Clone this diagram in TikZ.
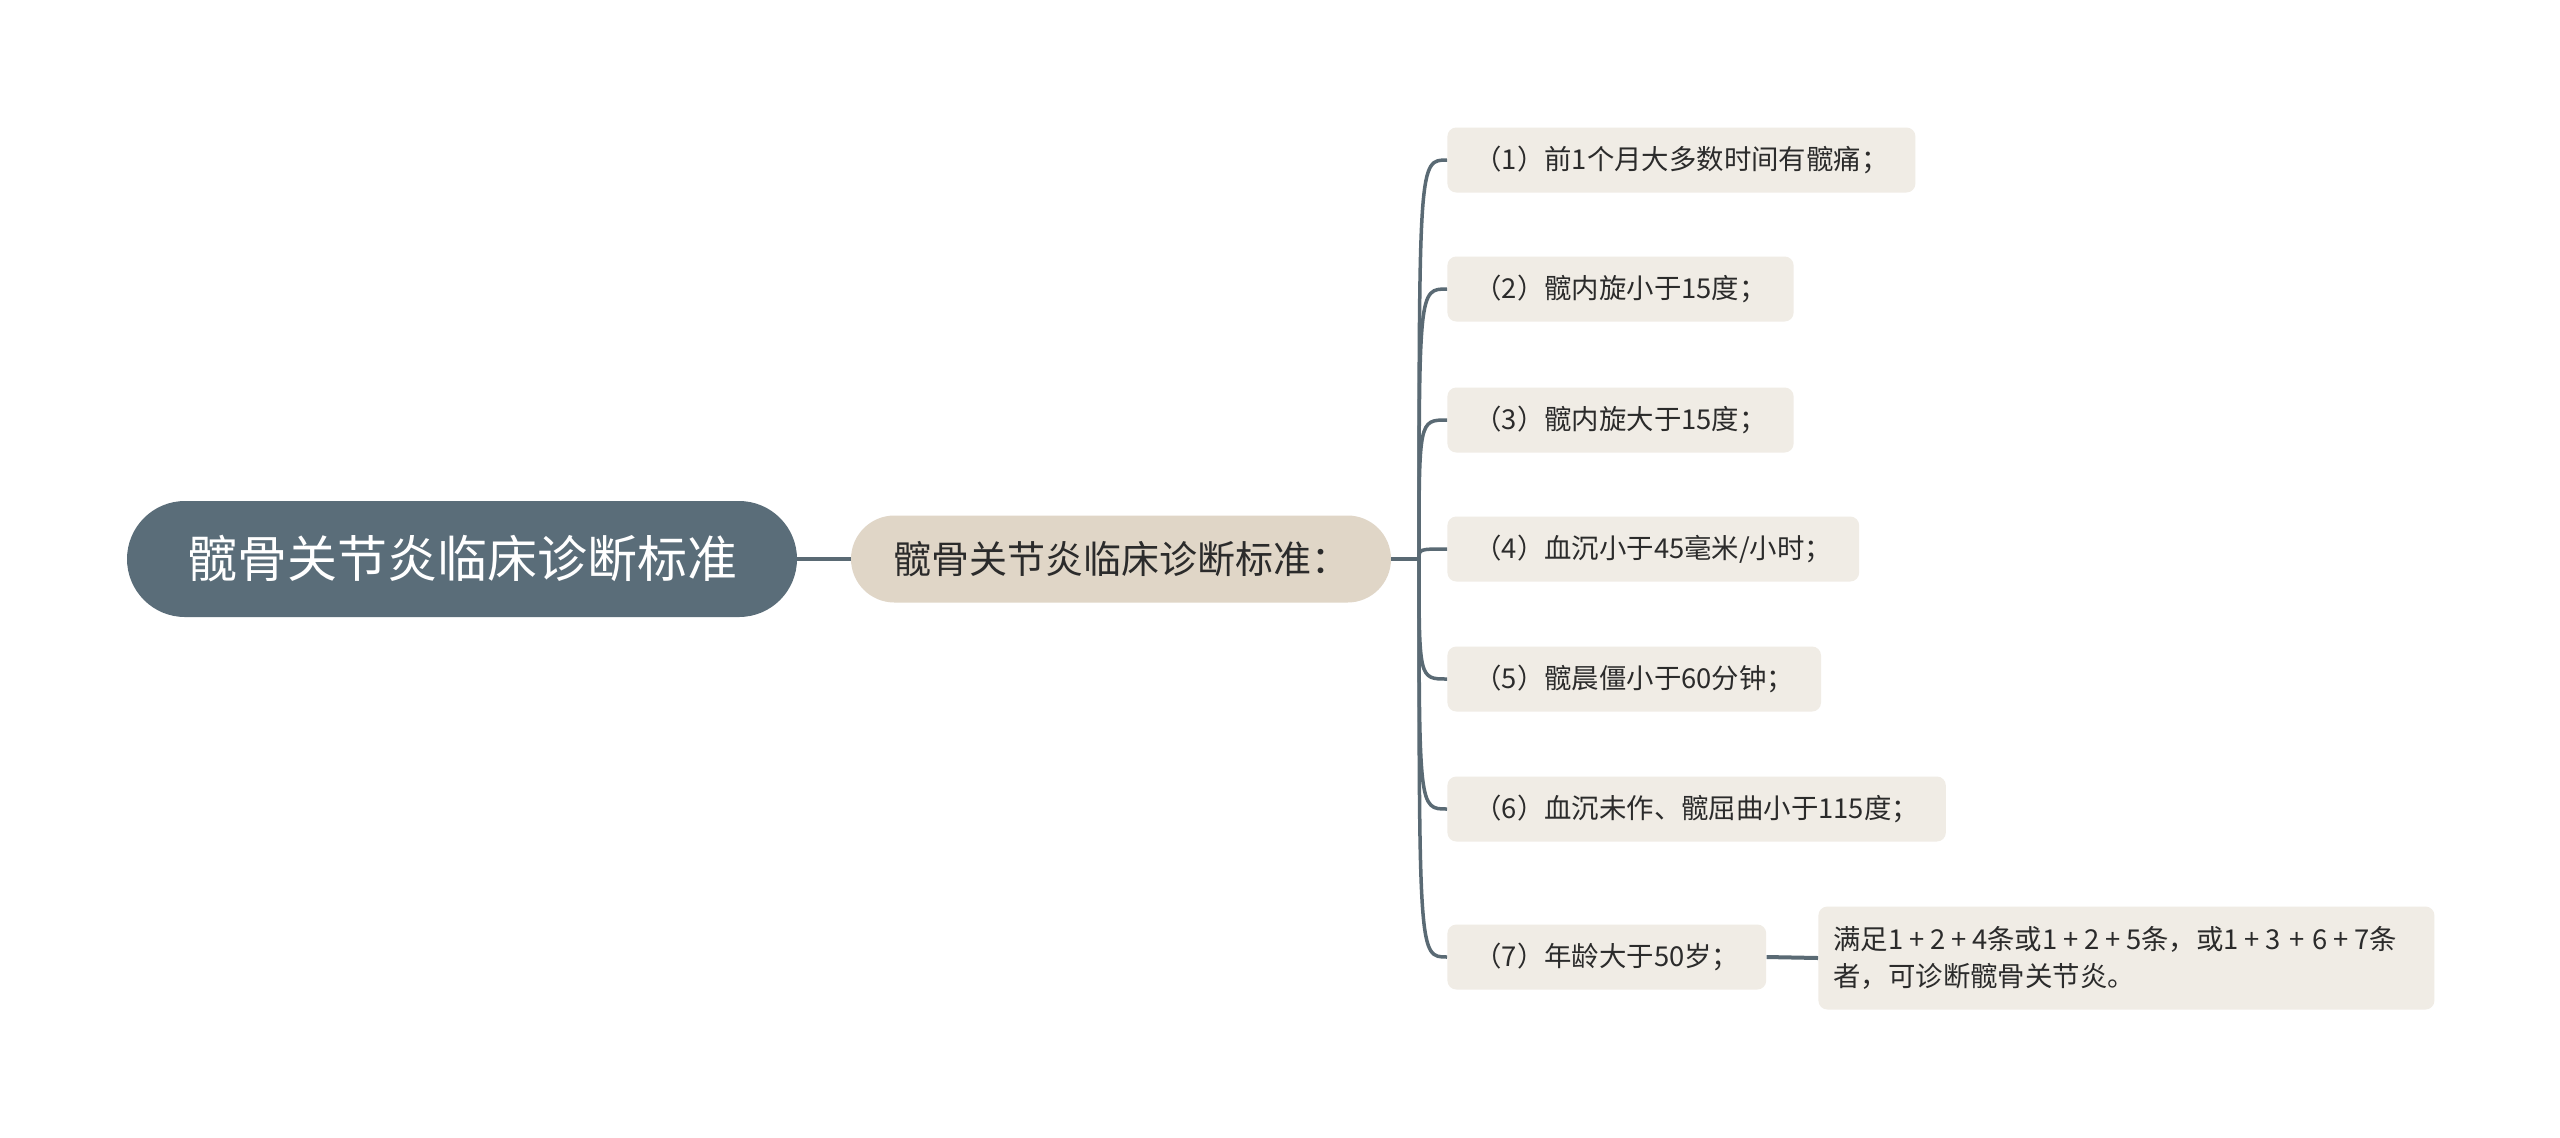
\documentclass[tikz,border=0pt]{standalone}
\usepackage{fontspec}
\setmainfont{Noto Sans CJK SC}
\usepackage{color}
\definecolor{rootfill}{HTML}{5A6D79}
\definecolor{mainfill}{HTML}{E0D6C7}
\definecolor{itemfill}{HTML}{F0ECE5}
\definecolor{linecol}{HTML}{5A6A74}
\definecolor{textcol}{HTML}{2B2B2B}
\newcommand{\pluskern}{\kern2.9pt+\kern2.9pt}

\begin{document}
\begin{tikzpicture}[x=0.5pt,y=-0.5pt,
 rootbox/.style={fill=rootfill,text=white,rounded corners=29pt,minimum width=335pt,minimum height=58pt,inner sep=0pt,font=\fontsize{25}{30}\selectfont},
 mainbox/.style={fill=mainfill,text=textcol,rounded corners=21.75pt,minimum width=270pt,minimum height=43.5pt,inner sep=0pt,font=\fontsize{19}{23}\selectfont},
 itembox/.style={fill=itemfill,text=textcol,rounded corners=4.5pt,anchor=west,minimum height=32.5pt,inner xsep=13.5pt,inner ysep=0pt,font=\fontsize{13.7}{16}\selectfont},
 notebox/.style={fill=itemfill,text=textcol,rounded corners=4.5pt,anchor=west,minimum height=51.5pt,text width=293pt,align=left,inner xsep=7.5pt,inner ysep=0pt,font=\fontsize{13.7}{18.8}\selectfont},
 branch/.style={draw=linecol,line width=1.75pt}]
 \useasboundingbox[fill=white] (0,0) rectangle (2560,1137);

 \node [rootbox] (R) at (462,559) {髋骨关节炎临床诊断标准};
 \node [mainbox] (M) at (1121,559) {髋骨关节炎临床诊断标准：};
 \coordinate (H) at (1419,559);

 \node [itembox] (C1) at (1447,160) {（1）前1个月大多数时间有髋痛；};
 \node [itembox] (C2) at (1447,289) {（2）髋内旋小于15度；};
 \node [itembox] (C3) at (1447,420) {（3）髋内旋大于15度；};
 \node [itembox] (C4) at (1447,549) {（4）血沉小于45毫米/小时；};
 \node [itembox] (C5) at (1447,679) {（5）髋晨僵小于60分钟；};
 \node [itembox] (C6) at (1447,809) {（6）血沉未作、髋屈曲小于115度；};
 \node [itembox] (C7) at (1447,957) {（7）年龄大于50岁；};
 \node [notebox] (N) at (1818,958) {满足1\pluskern2\pluskern4条或1\pluskern2\pluskern5条，或1\pluskern3\kern1.2pt\pluskern\kern1.2pt6\pluskern7条\\者，可诊断髋骨关节炎。};

 \draw[branch] (R.east) -- (M.west);
 \draw[branch] (M.east) -- (H);
 \draw[branch] (H) .. controls (H |- C1.west) .. (C1.west);
 \draw[branch] (H) .. controls (H |- C2.west) .. (C2.west);
 \draw[branch] (H) .. controls (H |- C3.west) .. (C3.west);
 \draw[branch] (H) .. controls (H |- C4.west) .. (C4.west);
 \draw[branch] (H) .. controls (H |- C5.west) .. (C5.west);
 \draw[branch] (H) .. controls (H |- C6.west) .. (C6.west);
 \draw[branch] (H) .. controls (H |- C7.west) .. (C7.west);
 \draw[branch,line width=2pt] (C7.east) -- (N.west);
\end{tikzpicture}
\end{document}
